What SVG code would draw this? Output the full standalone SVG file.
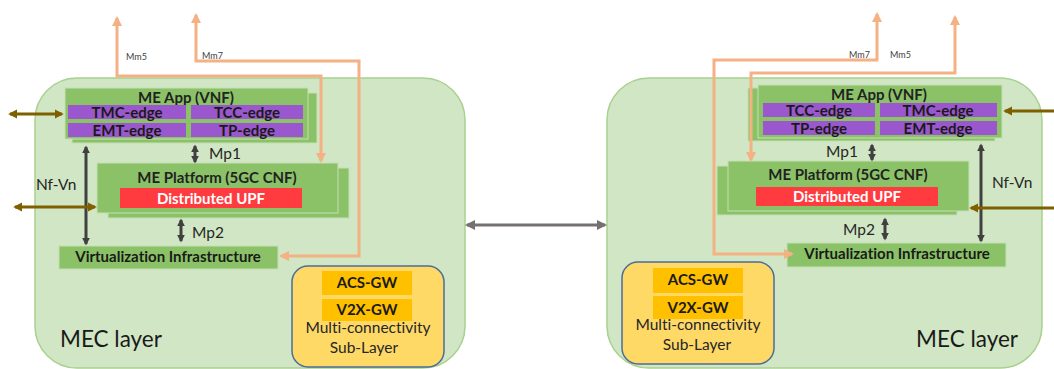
<svg xmlns="http://www.w3.org/2000/svg" width="1054" height="369" viewBox="0 0 1054 369">
  <style>
    .layer { fill: #D0E6C4; stroke: #A9D18E; stroke-width: 1.5; }
    .box { fill: #8BC267; stroke: #C5E0B4; stroke-width: 1; }
    .shadow { fill: #8BC267; stroke: #C5E0B4; stroke-width: 1; }
    .app { fill: #9A57CE; }
    .upf { fill: #FF3B3F; }
    .sub { fill: #FFD966; stroke: #4D6B9A; stroke-width: 1.5; }
    .gw { fill: #FFC000; }
    text { font-family: Lato, "Liberation Sans", sans-serif; fill: #1A1A1A; font-variant-ligatures: none; }
    .t { font-size: 15px; font-weight: 700; text-anchor: middle; fill: #222222; }
    .tb { font-size: 15px; font-weight: 700; text-anchor: middle; }
    .w { fill: #FFFFFF; }
    .lbl { font-size: 15.5px; fill: #262626; }
    .small { font-size: 9px; fill: #404040; }
    .big { font-size: 22.5px; }
    .mid { text-anchor: middle; }
    .end { text-anchor: end; }
    .dark { stroke: #404040; stroke-width: 3; fill: none; marker-start: url(#hd); marker-end: url(#hd); }
    .brown { stroke: #7F6000; stroke-width: 3; fill: none; marker-start: url(#hb); marker-end: url(#hb); }
    .orange { stroke: #F4B183; stroke-width: 3; fill: none; marker-start: url(#ho); marker-end: url(#ho); }
    .gray { stroke: #767171; stroke-width: 3; fill: none; marker-start: url(#hg); marker-end: url(#hg); }
  </style>
  <defs>
    <marker id="hd" viewBox="0 0 10 10" refX="8" refY="5" markerWidth="8" markerHeight="10" markerUnits="userSpaceOnUse" orient="auto-start-reverse">
      <path d="M0,0 L10,5 L0,10 z" fill="#404040"/>
    </marker>
    <marker id="hb" viewBox="0 0 10 10" refX="8" refY="5" markerWidth="9" markerHeight="10" markerUnits="userSpaceOnUse" orient="auto-start-reverse">
      <path d="M0,0 L10,5 L0,10 z" fill="#7F6000"/>
    </marker>
    <marker id="ho" viewBox="0 0 10 10" refX="8" refY="5" markerWidth="10" markerHeight="11" markerUnits="userSpaceOnUse" orient="auto-start-reverse">
      <path d="M0,0 L10,5 L0,10 z" fill="#F4B183"/>
    </marker>
    <marker id="hg" viewBox="0 0 10 10" refX="8" refY="5" markerWidth="10" markerHeight="11" markerUnits="userSpaceOnUse" orient="auto-start-reverse">
      <path d="M0,0 L10,5 L0,10 z" fill="#767171"/>
    </marker>
  </defs>

  <!-- left MEC layer -->
  <g id="mec-left">
    <rect class="layer" x="35" y="78" width="430" height="290" rx="42"/>
    <text class="big" x="60" y="347">MEC layer</text>
  </g>
  <!-- right MEC layer -->
  <g id="mec-right">
    <rect class="layer" x="607" y="78" width="435" height="290" rx="42"/>
    <text class="big end" x="1018" y="347">MEC layer</text>
  </g>

  <!-- left stack -->
  <g id="me-app-left">
    <rect class="shadow" x="72" y="93" width="245" height="50"/>
    <rect class="box" x="65" y="88" width="243" height="51"/>
    <text class="t" x="186" y="103">ME App (VNF)</text>
    <rect class="app" x="68" y="105" width="118" height="14"/>
    <rect class="app" x="191" y="105" width="112" height="14"/>
    <rect class="app" x="68" y="123" width="118" height="14"/>
    <rect class="app" x="191" y="123" width="112" height="14"/>
    <text class="tb" x="127" y="118">TMC-edge</text>
    <text class="tb" x="247" y="118">TCC-edge</text>
    <text class="tb" x="127" y="136">EMT-edge</text>
    <text class="tb" x="247" y="136">TP-edge</text>
  </g>
  <g id="me-platform-left">
    <rect class="shadow" x="108" y="168" width="241" height="50"/>
    <rect class="box" x="97" y="163" width="241" height="50"/>
    <text class="t" x="217" y="183">ME Platform (5GC CNF)</text>
    <rect class="upf" x="120" y="188" width="182" height="20"/>
    <text class="tb w" x="211" y="204">Distributed UPF</text>
  </g>
  <g id="virt-left">
    <rect class="box" x="59" y="246" width="219" height="23"/>
    <text class="tb" x="168" y="262">Virtualization Infrastructure</text>
  </g>
  <g id="multi-left">
    <rect class="sub" x="292" y="266" width="152" height="101" rx="16"/>
    <rect class="gw" x="322" y="271" width="90" height="24"/>
    <rect class="gw" x="322" y="299" width="90" height="22"/>
    <text class="tb" x="367" y="288">ACS-GW</text>
    <text class="tb" x="367" y="315">V2X-GW</text>
    <text class="lbl mid" x="368" y="333">Multi-connectivity</text>
    <text class="lbl mid" x="364" y="353">Sub-Layer</text>
  </g>

  <!-- right stack -->
  <g id="me-app-right">
    <rect class="shadow" x="748" y="88" width="247" height="53"/>
    <rect class="box" x="758" y="85" width="244" height="53"/>
    <text class="t" x="879" y="100">ME App (VNF)</text>
    <rect class="app" x="763" y="103" width="112" height="14"/>
    <rect class="app" x="880" y="103" width="117" height="14"/>
    <rect class="app" x="763" y="121" width="112" height="14"/>
    <rect class="app" x="880" y="121" width="117" height="14"/>
    <text class="tb" x="819" y="116">TCC-edge</text>
    <text class="tb" x="938" y="116">TMC-edge</text>
    <text class="tb" x="819" y="134">TP-edge</text>
    <text class="tb" x="938" y="134">EMT-edge</text>
  </g>
  <g id="me-platform-right">
    <rect class="shadow" x="717" y="166" width="240" height="49"/>
    <rect class="box" x="728" y="161" width="241" height="50"/>
    <text class="t" x="848" y="180">ME Platform (5GC CNF)</text>
    <rect class="upf" x="756" y="187" width="182" height="19"/>
    <text class="tb w" x="847" y="202">Distributed UPF</text>
  </g>
  <g id="virt-right">
    <rect class="box" x="787" y="243" width="219" height="24"/>
    <text class="tb" x="897" y="259">Virtualization Infrastructure</text>
  </g>
  <g id="multi-right">
    <rect class="sub" x="622" y="262" width="152" height="102" rx="16"/>
    <rect class="gw" x="653" y="268" width="90" height="25"/>
    <rect class="gw" x="653" y="296" width="90" height="23"/>
    <text class="tb" x="698" y="285">ACS-GW</text>
    <text class="tb" x="698" y="313">V2X-GW</text>
    <text class="lbl mid" x="698" y="330">Multi-connectivity</text>
    <text class="lbl mid" x="697" y="350">Sub-Layer</text>
  </g>

  <!-- connectors -->
  <g id="connectors">
    <line class="gray" x1="467" y1="225" x2="605" y2="225"/>

    <line class="dark" x1="86" y1="147" x2="86" y2="244"/>
    <line class="dark" x1="195" y1="146" x2="195" y2="162"/>
    <line class="dark" x1="181" y1="220" x2="181" y2="241"/>
    <line class="brown" x1="10" y1="114" x2="62" y2="114"/>
    <line class="brown" x1="15" y1="207" x2="95" y2="207"/>
    <path class="orange" d="M321,161 V76 H117 V18"/>
    <path class="orange" d="M281,256 H359 V61 H196 V15"/>

    <line class="dark" x1="981" y1="145" x2="981" y2="241"/>
    <line class="dark" x1="872" y1="145" x2="872" y2="160"/>
    <line class="dark" x1="885" y1="219" x2="885" y2="239"/>
    <line class="brown" x1="1005" y1="111" x2="1063" y2="111"/>
    <line class="brown" x1="971" y1="208" x2="1063" y2="208"/>
    <path class="orange" d="M792,254 H714 V60 H877 V14"/>
    <path class="orange" d="M751,160 V73 H955 V17"/>

    <text class="lbl" x="209" y="159">Mp1</text>
    <text class="lbl" x="192" y="238">Mp2</text>
    <text class="lbl" x="36" y="190">Nf-Vn</text>
    <text class="small" x="126" y="60">Mm5</text>
    <text class="small" x="202" y="59">Mm7</text>

    <text class="lbl" x="826" y="157">Mp1</text>
    <text class="lbl" x="843" y="235">Mp2</text>
    <text class="lbl" x="992" y="188">Nf-Vn</text>
    <text class="small end" x="870" y="58">Mm7</text>
    <text class="small" x="890" y="58">Mm5</text>
  </g>
</svg>
